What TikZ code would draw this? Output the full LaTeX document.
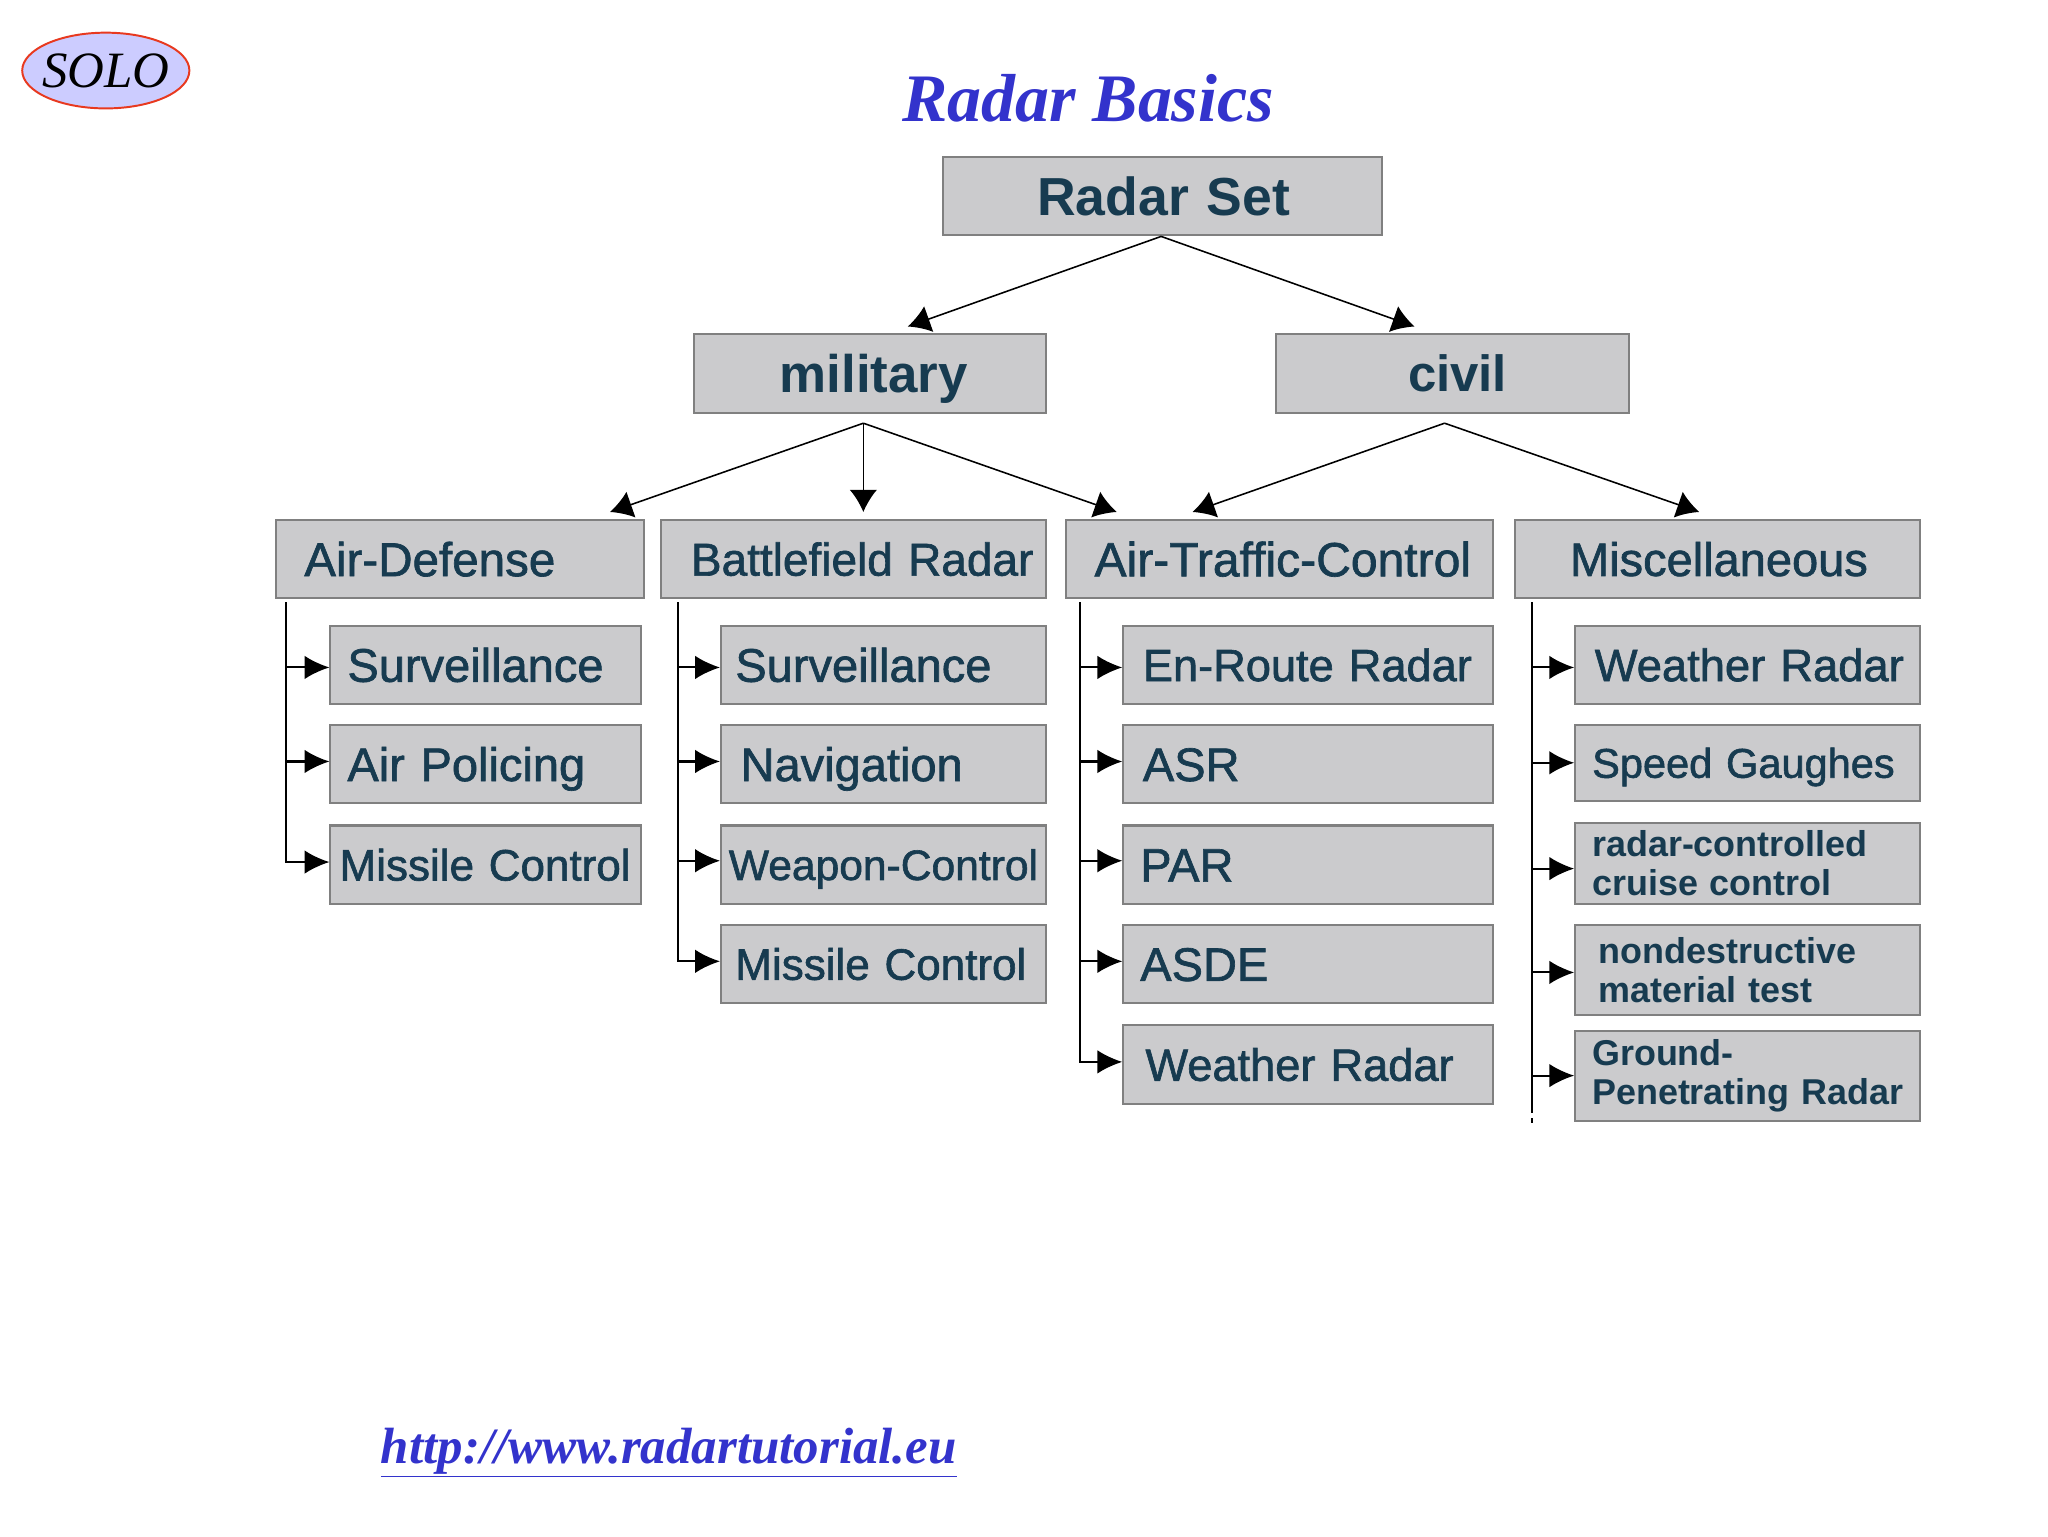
\documentclass[tikz,border=0pt]{standalone}
\usepackage{fontspec}
\setmainfont{Liberation Sans}
\newfontfamily\serifface{Liberation Serif}
\newfontfamily\midface[FakeBold=1.4]{Liberation Sans}
\usetikzlibrary{arrows.meta,shapes.geometric}
\definecolor{boxfill}{HTML}{CBCBCD}
\definecolor{boxline}{HTML}{808080}
\definecolor{labeltext}{HTML}{173B50}
\definecolor{titleblue}{HTML}{3333CC}
\definecolor{logofill}{HTML}{CCCCFF}
\definecolor{logoline}{HTML}{E8391F}
\newcommand{\fsize}[1]{\fontsize{#1}{#1}\selectfont}
\newcommand{\pad}[1]{\hspace*{#1pt}}
\tikzset{
  rbox/.style 2 args={draw=boxline,fill=boxfill,line width=1.6pt,inner sep=0pt,
    text=labeltext,align=left,text width=#1pt,minimum width=#1pt,minimum height=#2pt},
  oneline/.style={text height=#1pt*0.72,text depth=0pt},
  headfont/.style={font=\bfseries\fsize{#1},oneline=#1},
  midfont/.style={font=\midface\fsize{#1},oneline=#1},
  twolines/.style={font=\bfseries\fontsize{#1}{30}\selectfont},
  down/.style={-{Latex[length=17pt,width=21pt]},line width=1.2pt},
  tip/.style={-{Latex[length=19pt,width=18pt]},line width=1.6pt}
}
\begin{document}
\begin{tikzpicture}[x=1pt,y=-1pt]
\useasboundingbox (0,0) rectangle (1568,1176);

% Logo and title
\node[ellipse,draw=logoline,fill=logofill,line width=1.5pt,minimum width=128pt,minimum height=58pt,
  inner sep=0pt,font=\serifface\itshape\fsize{39}] (logo) at (81,54) {\makebox[0pt]{SOLO}};
\node[font=\serifface\bfseries\itshape\fsize{52},text=titleblue] (title) at (833,75) {Radar Basics};

% Top levels
\node[rbox={336}{60},headfont=41] (radar) at (890,150) {\pad{72}Radar Set};
\node[rbox={270}{60},headfont=40.5] (military) at (666,286) {\pad{66}military};
\node[rbox={270}{60},headfont=39] (civil) at (1112,286) {\pad{101}civil};

% Categories
\node[rbox={282}{60},midfont=36.4] (defense) at (352,428) {\pad{22}Air-Defense};
\node[rbox={295}{60},midfont=35.2] (battle) at (653.5,428) {\pad{23}Battlefield Radar};
\node[rbox={327}{60},midfont=36.8] (traffic) at (979.5,428) {\pad{22}Air-Traffic-Control};
\node[rbox={310}{60},midfont=36] (misc) at (1315,428) {\pad{42}Miscellaneous};

% Air-Defense
\node[rbox={238}{60},midfont=36] (adsurv) at (372,509) {\pad{13}Surveillance};
\node[rbox={238}{60},midfont=36] (adpol) at (372,585) {\pad{13}Air Policing};
\node[rbox={238}{60},midfont=33.7] (admiss) at (372,662) {\pad{7}Missile Control};

% Battlefield Radar
\node[rbox={249}{60},midfont=36] (bfsurv) at (676.5,509) {\pad{11}Surveillance};
\node[rbox={249}{60},midfont=36] (bfnav) at (676.5,585) {\pad{15}Navigation};
\node[rbox={249}{60},midfont=32.6] (bfweap) at (676.5,662) {\pad{6}Weapon-Control};
\node[rbox={249}{60},midfont=33.7] (bfmiss) at (676.5,738) {\pad{11}Missile Control};

% Air-Traffic-Control
\node[rbox={283}{60},midfont=34.6] (atroute) at (1001.5,509) {\pad{15}En-Route Radar};
\node[rbox={283}{60},midfont=36] (atasr) at (1001.5,585) {\pad{15}ASR};
\node[rbox={283}{60},midfont=36] (atpar) at (1001.5,662) {\pad{13}PAR};
\node[rbox={283}{60},midfont=36] (atasde) at (1001.5,738) {\pad{13}ASDE};
\node[rbox={283}{60},midfont=34.6] (atwx) at (1001.5,815) {\pad{17}Weather Radar};

% Miscellaneous
\node[rbox={264}{60},midfont=34.7] (mswx) at (1338,509) {\pad{15}Weather Radar};
\node[rbox={264}{58},midfont=31.8] (msspeed) at (1338,584) {\pad{13}Speed Gaughes};
\node[rbox={264}{62},twolines=27.5] (mscruise) at (1338,661) {\pad{13}radar-controlled\\\pad{13}cruise control};
\node[rbox={264}{69},twolines=27.5] (mstest) at (1338,742.5) {\pad{18}nondestructive\\\pad{18}material test};
\node[rbox={264}{69},twolines=27.5] (msgpr) at (1338,823.5) {\pad{13}Ground-\\\pad{13}Penetrating Radar};

% Split points
\coordinate (radarfork) at (889,181);
\coordinate (milfork) at (661,324);
\coordinate (civfork) at (1106,324);
\coordinate (milin) at (695,250);
\coordinate (civin) at (1083,250);
\coordinate (adin) at (467,392);
\coordinate (bfin) at (661,392);
\coordinate (atin) at (855,392);
\coordinate (atcin) at (913,392);
\coordinate (msin) at (1301,392);

% Upper arrows
\draw[down] (radarfork) -- (milin);
\draw[down] (radarfork) -- (civin);
\draw[down] (milfork) -- (adin);
\draw[down] (milfork) -- (bfin);
\draw[down] (milfork) -- (atin);
\draw[down] (civfork) -- (atcin);
\draw[down] (civfork) -- (msin);

% Trunks
\coordinate (adtrunk) at (219,461);
\coordinate (bftrunk) at (519,461);
\coordinate (attrunk) at (827,461);
\coordinate (mstrunk) at (1173,461);
\coordinate (msend) at (1173,848);
\coordinate (msdash) at (1173,863);

% Air-Defense branches
\draw[tip] ([yshift=-2pt]adtrunk |- adsurv.west) -- ([yshift=-2pt]adsurv.west);
\draw[tip] ([yshift=2pt]adtrunk |- adpol.west) -- ([yshift=2pt]adpol.west);
\draw[tip] (adtrunk) |- ([yshift=2pt]admiss.west);

% Battlefield Radar branches
\draw[tip] ([yshift=-2pt]bftrunk |- bfsurv.west) -- ([yshift=-2pt]bfsurv.west);
\draw[tip] ([yshift=2pt]bftrunk |- bfnav.west) -- ([yshift=2pt]bfnav.west);
\draw[tip] ([yshift=3pt]bftrunk |- bfweap.west) -- ([yshift=3pt]bfweap.west);
\draw[tip] (bftrunk) |- ([yshift=2pt]bfmiss.west);

% Air-Traffic-Control branches
\draw[tip] ([yshift=-2pt]attrunk |- atroute.west) -- ([yshift=-2pt]atroute.west);
\draw[tip] ([yshift=2pt]attrunk |- atasr.west) -- ([yshift=2pt]atasr.west);
\draw[tip] ([yshift=3pt]attrunk |- atpar.west) -- ([yshift=3pt]atpar.west);
\draw[tip] ([yshift=2pt]attrunk |- atasde.west) -- ([yshift=2pt]atasde.west);
\draw[tip] (attrunk) |- ([yshift=2pt]atwx.west);

% Miscellaneous branches
\draw[line width=1.6pt] (mstrunk) -- (msend);
\draw[line width=1.6pt,dash pattern=on 4pt off 4pt] (msend) -- (msdash);
\draw[tip] ([yshift=-2pt]mstrunk |- mswx.west) -- ([yshift=-2pt]mswx.west);
\draw[tip] (mstrunk |- msspeed.west) -- (msspeed.west);
\draw[tip] ([yshift=-4pt]mstrunk |- mscruise.west) -- ([yshift=-4pt]mscruise.west);
\draw[tip] ([yshift=-2pt]mstrunk |- mstest.west) -- ([yshift=-2pt]mstest.west);
\draw[tip] (mstrunk |- msgpr.west) -- (msgpr.west);

% Link
\node[font=\serifface\bfseries\itshape\fsize{39},text=titleblue] (link) at (512,1112) {\underline{http://www.radartutorial.eu}};

\end{tikzpicture}
\end{document}
